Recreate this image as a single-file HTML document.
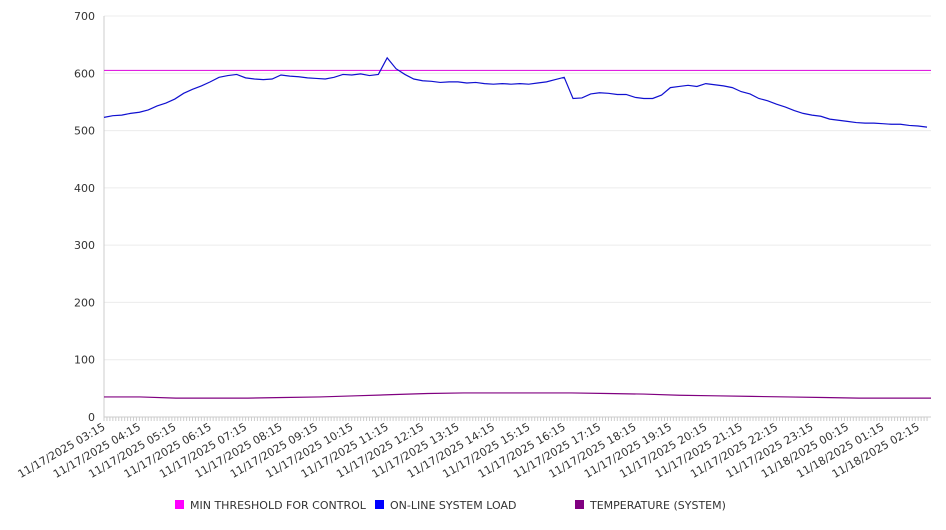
<!DOCTYPE html>
<html><head><meta charset="utf-8"><style>
body{margin:0;background:#fff;font-family:"DejaVu Sans","Liberation Sans",sans-serif;}
svg text{font-family:"DejaVu Sans","Liberation Sans",sans-serif;font-size:11px;fill:#333;}
</style></head><body>
<svg id="chart" width="946" height="526" xmlns="http://www.w3.org/2000/svg"></svg>
<script>
const yTicks=[0,100,200,300,400,500,600,700];
const xLabels=["03:15","04:15","05:15","06:15","07:15","08:15","09:15","10:15","11:15","12:15","13:15","14:15","15:15","16:15","17:15","18:15","19:15","20:15","21:15","22:15","23:15","00:15","01:15","02:15"];
const xDates=["11/17/2025","11/17/2025","11/17/2025","11/17/2025","11/17/2025","11/17/2025","11/17/2025","11/17/2025","11/17/2025","11/17/2025","11/17/2025","11/17/2025","11/17/2025","11/17/2025","11/17/2025","11/17/2025","11/17/2025","11/17/2025","11/17/2025","11/17/2025","11/17/2025","11/18/2025","11/18/2025","11/18/2025"];
const thresholdValue=605;
const loadValues=[523,526,527,530,532,536,543,548,555,565,572,578,585,593,596,598,592,590,589,590,597,595,594,592,591,590,593,598,597,599,596,598,627,608,598,590,587,586,584,585,585,583,584,582,581,582,581,582,581,583,585,589,593,556,557,564,566,565,563,563,558,556,556,562,575,577,579,577,582,580,578,575,568,564,556,552,546,541,535,530,527,525,520,518,516,514,513,513,512,511,511,509,508,506];
const tempValues=[35,35,33,33,33,34,35,37,39,41,42,42,42,42,41,40,38,37,36,35,34,33,33,33];

const svg=document.getElementById('chart');
const NS='http://www.w3.org/2000/svg';
const L=104,R=931,T=16,B=417,HOUR=35.4;
const y=v=>B-(v/700)*(B-T);
const xHour=h=>L+h*HOUR;
function mk(tag,attrs){const e=document.createElementNS(NS,tag);for(const k in attrs)e.setAttribute(k,attrs[k]);svg.appendChild(e);return e;}

yTicks.forEach(v=>{
  const g=mk('line',{x1:L,x2:R,y1:y(v),y2:y(v),stroke:v===0?'#ccc':'#ececec','stroke-width':1});
  
  
  const t=mk('text',{x:95,y:y(v)+4,'text-anchor':'end'});t.textContent=v;
  
  
});
const ax=mk('line',{x1:L,x2:L,y1:T,y2:B,stroke:'#ccc'});


for(let i=0;i<=23.33*12;i++){
  const tx=L+i*HOUR/12;
  const tk=mk('line',{x1:tx,x2:tx,y1:B,y2:B+4,stroke:'#ccc'});
  
  
}
xLabels.forEach((l,i)=>{
  const px=xHour(i)+2,py=B+12;
  const t=mk('text',{x:px,y:py,'text-anchor':'end',transform:`rotate(-30 ${px} ${py})`});
  t.textContent=xDates[i]+' '+l;
  
  
});
const th=mk('line',{x1:L,x2:R,y1:y(thresholdValue),y2:y(thresholdValue),stroke:'#e020e0','stroke-width':1.2});



const lstep=(R-4-L)/(loadValues.length-1);
const lp=mk('polyline',{fill:'none',stroke:'#1010d0','stroke-width':1.2,points:loadValues.map((v,i)=>(L+i*lstep)+','+y(v)).join(' ')});



const tstep=(R-L)/(tempValues.length-1);
let pts=[];
tempValues.forEach((v,i)=>{pts.push((L+i*tstep)+','+y(v));});
const tp=mk('polyline',{fill:'none',stroke:'#800080','stroke-width':1.2,points:pts.join(' ')});



const legend=[["MIN THRESHOLD FOR CONTROL","#ff00ff",175],["ON-LINE SYSTEM LOAD","#0000ff",375],["TEMPERATURE (SYSTEM)","#800080",575]];
legend.forEach(([txt,c,lx])=>{
  const r=mk('rect',{x:lx,y:500,width:9,height:9,fill:c});
  
  
  const t=mk('text',{x:lx+15,y:509});t.textContent=txt;
  
  
});
</script>
</body></html>
